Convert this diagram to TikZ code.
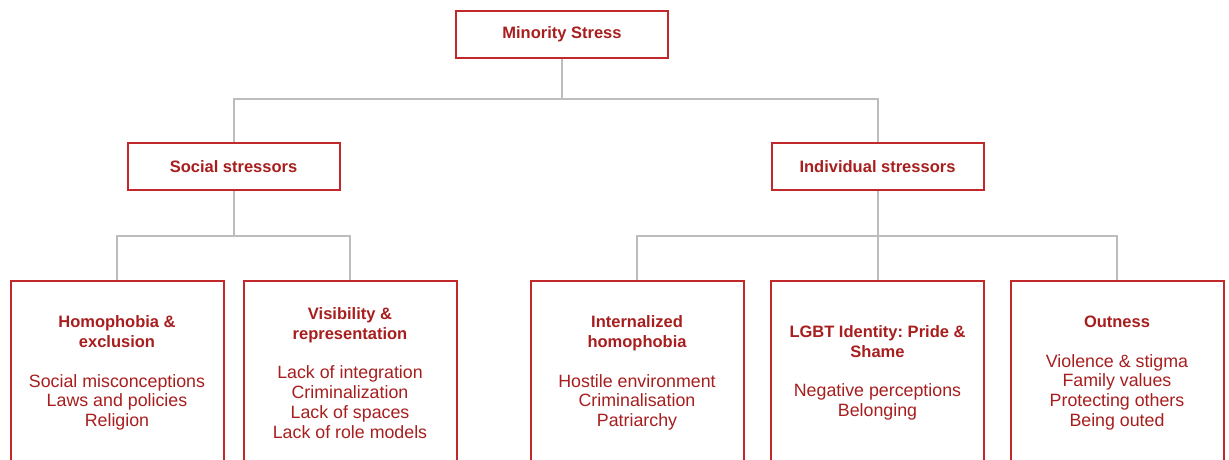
\documentclass[tikz,border=0pt]{standalone}
\usepackage{fontspec}
\setmainfont{Liberation Sans}
\frenchspacing
\definecolor{boxred}{HTML}{C0282A}
\definecolor{txtred}{HTML}{A81E1E}
\definecolor{linkgray}{HTML}{BDBDBD}
\newcommand{\leafhead}[1]{{\fontsize{16.5}{19.8}\selectfont\bfseries #1}}
\tikzset{
  headbox/.style={draw=boxred, line width=2pt, fill=white, text=txtred,
    minimum width=212pt, minimum height=47pt, inner sep=0pt,
    font=\fontsize{16.5}{20}\selectfont\bfseries},
  leafbox/.style={draw=boxred, line width=2pt, fill=white, text=txtred,
    minimum width=213pt, minimum height=184pt, inner sep=0pt, anchor=north,
    align=center, font=\fontsize{17.8}{19.8}\selectfont},
  link/.style={draw=linkgray, line width=2pt}
}
\begin{document}
\begin{tikzpicture}[x=1pt, y=-1pt]
  \useasboundingbox (0,0) rectangle (1229,459);
  \clip (0,0) rectangle (1229,459);
  \fill[white] (0,0) rectangle (1229,459);

  % upper levels
  \node[headbox] (ms)  at (562,34)   {Minority Stress};
  \node[headbox] (soc) at (233.5,166.5) {Social stressors};
  \node[headbox] (ind) at (877.5,166.5) {Individual stressors};

  % leaf boxes
  \node[leafbox] (hom) at (117,280) {\leafhead{Homophobia \&}\\\leafhead{exclusion}\\[19.8pt]
    Social misconceptions\\Laws and policies\\Religion};
  \node[leafbox] (vis) at (350,280) {\leafhead{Visibility \&}\\\leafhead{representation}\\[19.8pt]
    Lack of integration\\Criminalization\\Lack of spaces\\Lack of role models};
  \node[leafbox] (inh) at (637,280) {\leafhead{Internalized}\\\leafhead{homophobia}\\[19.8pt]
    Hostile environment\\Criminalisation\\Patriarchy};
  \node[leafbox] (lgb) at (877.5,280) {\leafhead{LGBT Identity: Pride \&}\\\leafhead{Shame}\\[19.8pt]
    Negative perceptions\\Belonging};
  \node[leafbox] (out) at (1117,280) {\leafhead{Outness}\\[19.8pt]
    Violence \& stigma\\Family values\\Protecting others\\Being outed};

  % branch levels
  \coordinate (bus0) at (0,99);
  \coordinate (bus1) at (0,236);

  % connectors
  \begin{scope}[link]
    \draw (ms.south) -- (ms.south |- bus0) -| (soc.north);
    \draw (ms.south |- bus0) -| (ind.north);
    \draw (soc.south) -- (soc.south |- bus1) -| (hom.north);
    \draw (soc.south |- bus1) -| (vis.north);
    \draw (ind.south) -- (ind.south |- bus1) -| (inh.north);
    \draw (ind.south |- bus1) -| (lgb.north);
    \draw (ind.south |- bus1) -| (out.north);
  \end{scope}
\end{tikzpicture}
\end{document}
